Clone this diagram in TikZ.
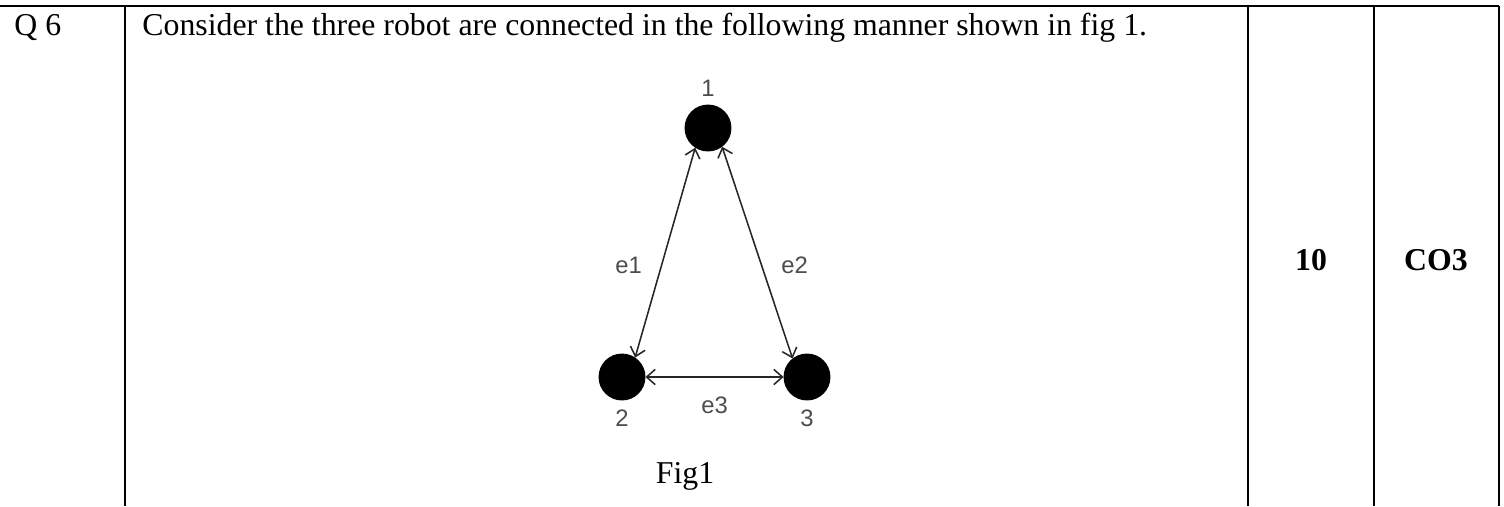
\documentclass[tikz,border=0pt]{standalone}
\usepackage{fontspec}
\setmainfont{Liberation Serif}
\newfontfamily\arialfont{Liberation Sans}
\usetikzlibrary{positioning,arrows.meta}

\begin{document}
\begin{tikzpicture}[
  x=42pt, y=42pt,
  rule/.style={line width=0.85pt, black},
  cell/.style={font=\fontsize{13.35}{16}\selectfont, inner sep=0pt},
  robot/.style={circle, fill=black, draw=black, minimum size=19.3pt, inner sep=0pt},
  link/.style={{Straight Barb[length=3.6pt, width=6.4pt]}-{Straight Barb[length=3.6pt, width=6.4pt]}, line width=0.65pt, draw=black!85},
  lbl/.style={font=\arialfont\fontsize{10}{12}\selectfont, text=black!70, inner sep=0pt},
]
\useasboundingbox (0,0) rectangle (15.04,5.06);

% === TABLE RULES ===
\draw[rule] (0,5.00) -- (14.99,5.00);
\foreach \xx in {1.25,12.48,13.74,14.99}
  \draw[rule] (\xx,5.00) -- (\xx,0);

\node[cell, anchor=base west] (qno) at (0.14,4.71) {Q 6};
\node[cell, anchor=base west] (qtext) at (1.42,4.71) {Consider the three robot are connected in the following manner shown in fig 1.};
\node[cell, font=\fontsize{13.35}{16}\selectfont\bfseries] (marks) at (13.11,2.46) {10};
\node[cell, font=\fontsize{13.35}{16}\selectfont\bfseries] (co) at (14.36,2.46) {CO3};

% === ROBOT GRAPH ===
\node[robot] (n1) at (7.08,3.78) {};
\node[robot] (n2) at (6.22,1.29) {};
\node[robot] (n3) at (8.07,1.29) {};

\node[lbl, above=3.2pt of n1] (l1) {1};
\node[lbl, below=3.6pt of n2] (l2) {2};
\node[lbl, below=3.6pt of n3] (l3) {3};

\draw[link] (n1.237) -- (n2.56) node[lbl, pos=0.56, left=8pt] (e1) {e1};
\draw[link] (n1.307) -- (n3.128) node[lbl, pos=0.56, right=8pt] (e2) {e2};
\draw[link] (n2.east) -- (n3.west) node[lbl, midway, below=8.2pt] (e3) {e3};

\node[cell, anchor=base] (cap) at (6.85,0.23) {Fig1};
\end{tikzpicture}
\end{document}
